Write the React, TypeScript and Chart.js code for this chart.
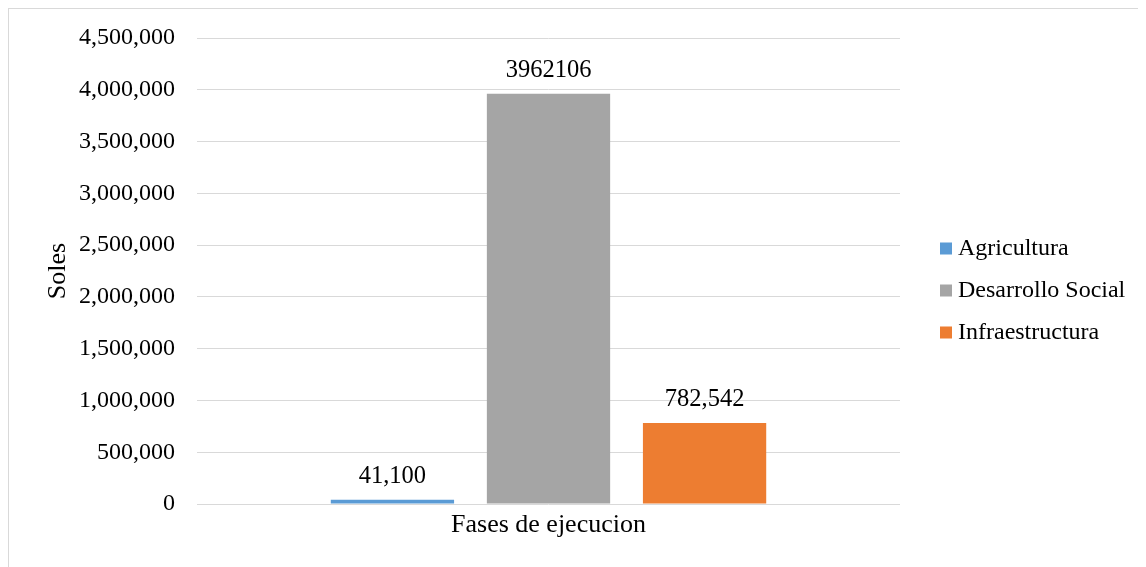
import React, { useEffect, useRef } from "react";
import { Chart, registerables } from "chart.js";

Chart.register(...registerables);

const categories = ["Fases de ejecucion"];
const seriesNames = ["Agricultura", "Desarrollo Social", "Infraestructura"];
const seriesValues = [41100, 3962106, 782542];
const valueLabels = ["41,100", "3962106", "782,542"];
const seriesColors = ["#5B9BD5", "#A5A5A5", "#ED7D31"];
const yTicksMax = 4500000;
const yTicksStep = 500000;

const FONT = '"Liberation Serif", "Times New Roman", serif';

const valueLabelPlugin = {
  id: "valueLabels",
  afterDatasetsDraw(chart: any) {
    const ctx = chart.ctx;
    ctx.save();
    ctx.font = `24.5px ${FONT}`;
    ctx.fillStyle = "#000";
    ctx.textAlign = "center";
    ctx.textBaseline = "middle";
    chart.data.datasets.forEach((ds: any, i: number) => {
      const meta = chart.getDatasetMeta(i);
      meta.data.forEach((bar: any) => {
        ctx.fillText(valueLabels[i], bar.x, bar.y - 23);
      });
    });
    ctx.restore();
  },
};

const customLegendPlugin = {
  id: "customLegend",
  afterDraw(chart: any) {
    const ctx = chart.ctx;
    ctx.save();
    ctx.font = `24px ${FONT}`;
    ctx.textAlign = "left";
    ctx.textBaseline = "middle";
    const boxX = 931;
    const startY = 239.5;
    const gap = 42;
    chart.data.datasets.forEach((ds: any, i: number) => {
      const cy = startY + i * gap;
      ctx.fillStyle = ds.backgroundColor;
      ctx.fillRect(boxX, cy - 6, 12, 12);
      ctx.fillStyle = "#000";
      ctx.fillText(ds.label, boxX + 18, cy);
    });
    ctx.restore();
  },
};

export default function App() {
  const ref = useRef<HTMLCanvasElement | null>(null);

  useEffect(() => {
    document.body.style.overflow = "hidden";
    if (!ref.current) return;
    const chart = new Chart(ref.current, {
      type: "bar",
      data: {
        labels: categories,
        datasets: seriesNames.map((name, i) => ({
          label: name,
          data: [seriesValues[i]],
          backgroundColor: seriesColors[i],
          borderWidth: 0,
          categoryPercentage: 0.666,
          barPercentage: 0.79,
        })),
      },
      options: {
        animation: false,
        responsive: false,
        maintainAspectRatio: false,
        layout: { padding: { top: 29, left: 0, right: 246, bottom: 0 } },
        plugins: {
          legend: { display: false },
          tooltip: { enabled: false },
        },
        scales: {
          x: {
            grid: { display: false },
            border: { display: false },
            ticks: { display: false },
            title: {
              display: true,
              text: categories[0],
              color: "#000",
              font: { family: FONT, size: 26 },
              padding: { top: 0, bottom: 26.4 },
            },
            afterFit(scale: any) {
              scale.height = 63;
            },
          },
          y: {
            min: 0,
            max: yTicksMax,
            grid: { color: "#D9D9D9", lineWidth: 1, drawTicks: false },
            border: { display: false },
            ticks: {
              stepSize: yTicksStep,
              padding: 22,
              color: "#000",
              font: { family: FONT, size: 24 },
              callback: (v: any) => Number(v).toLocaleString("en-US"),
            },
            title: {
              display: true,
              text: "Soles",
              color: "#000",
              font: { family: FONT, size: 26 },
              padding: { top: 33.4, bottom: 0 },
            },
            afterFit(scale: any) {
              scale.width = 188;
              scale.paddingTop = 0;
              scale.paddingBottom = 0;
            },
          },
        },
      },
      plugins: [valueLabelPlugin, customLegendPlugin],
    });
    return () => chart.destroy();
  }, []);

  return (
    <div
      style={{
        borderTop: "1px solid #D9D9D9",
        borderLeft: "1px solid #D9D9D9",
        width: 1137,
        height: 558,
        overflow: "hidden",
      }}
    >
      <canvas ref={ref} width={1137} height={558} style={{ display: "block" }} />
    </div>
  );
}
